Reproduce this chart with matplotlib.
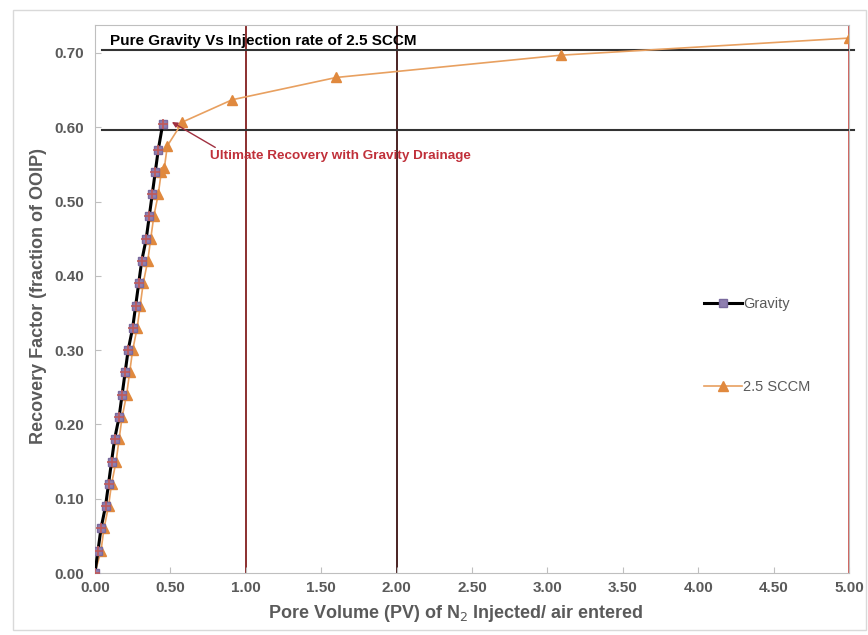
import matplotlib
matplotlib.use("Agg")
import matplotlib.pyplot as plt
from matplotlib.patches import Rectangle
from matplotlib.ticker import FormatStrFormatter, MultipleLocator

plt.rcParams["font.family"] = ["Liberation Sans", "DejaVu Sans"]

# gravity drainage run
gravity_pv = [0.00, 0.02, 0.04, 0.07, 0.09, 0.11, 0.13, 0.16, 0.18, 0.20, 0.22,
              0.25, 0.27, 0.29, 0.31, 0.34, 0.36, 0.38, 0.40, 0.42, 0.45]
gravity_rf = [0.00, 0.03, 0.06, 0.09, 0.12, 0.15, 0.18, 0.21, 0.24, 0.27, 0.30,
              0.33, 0.36, 0.39, 0.42, 0.45, 0.48, 0.51, 0.54, 0.57, 0.605]

# 2.5 SCCM injection run
sccm_pv = [0.00, 0.04, 0.06, 0.09, 0.11, 0.14, 0.16, 0.18, 0.21, 0.23, 0.25,
           0.28, 0.30, 0.32, 0.35, 0.37, 0.39, 0.42, 0.44, 0.46, 0.48,
           0.58, 0.91, 1.60, 3.09, 5.00]
sccm_rf = [0.00, 0.03, 0.06, 0.09, 0.12, 0.15, 0.18, 0.21, 0.24, 0.27, 0.30,
           0.33, 0.36, 0.39, 0.42, 0.45, 0.48, 0.51, 0.54, 0.545, 0.575,
           0.607, 0.637, 0.667, 0.697, 0.720]

ref_levels = [0.596, 0.704]
ref_pv = [1.0, 2.0, 5.0]
ref_pv_colors = ["#8b2f2f", "#4a2222", "#d0605a"]

GRAY = "#5a5a5a"

fig = plt.figure(figsize=(8.68, 6.35), dpi=100)
ax = fig.add_axes([0.1094, 0.0976, 0.8687, 0.863])

fig.patches.append(Rectangle((0.015, 0.008), 0.983, 0.977, transform=fig.transFigure,
                             fill=False, edgecolor="#d9d9d9", lw=1))

for xv, c in zip(ref_pv, ref_pv_colors):
    ax.axvline(xv, color=c, lw=1.4, zorder=1)
for yv in ref_levels:
    ax.plot([0.05, 5.03], [yv, yv], color="#333333", lw=1.5, clip_on=False, zorder=1)

ax.plot(gravity_pv, gravity_rf, color="black", lw=2.2, marker="s", ms=6,
        mfc="#8f7fb0", mec="#7a6a9e", label="Gravity", zorder=3)
ax.plot(gravity_pv, gravity_rf, ls="none", marker="+", ms=7, mew=1.2,
        color="#c05a5a", zorder=4)
ax.plot(sccm_pv, sccm_rf, color="#e8a060", lw=1.2, marker="^", ms=7,
        mfc="#e0893e", mec="#e0893e", label="2.5 SCCM", zorder=2)

ax.text(0.1, 0.711, "Pure Gravity Vs Injection rate of 2.5 SCCM",
        fontsize=11, fontweight="bold", color="black")
ax.annotate("Ultimate Recovery with Gravity Drainage", xy=(0.51, 0.607),
            xytext=(0.76, 0.557), fontsize=9.7, fontweight="bold", color="#c0303a",
            arrowprops=dict(arrowstyle="-|>", color="#a03040", lw=1,
                            shrinkA=0, shrinkB=0, mutation_scale=8,
                            relpos=(0.04, 1.0)))

ax.set_xlim(0, 5)
ax.set_ylim(0, 0.7376)
ax.xaxis.set_major_locator(MultipleLocator(0.5))
ax.yaxis.set_major_locator(MultipleLocator(0.1))
ax.xaxis.set_major_formatter(FormatStrFormatter("%.2f"))
ax.yaxis.set_major_formatter(FormatStrFormatter("%.2f"))
ax.tick_params(direction="in", length=4, color="#bfbfbf", labelcolor=GRAY,
               labelsize=11)
ax.tick_params(axis="y", pad=8)
ax.tick_params(axis="x", pad=6)
for lab in ax.get_xticklabels() + ax.get_yticklabels():
    lab.set_fontweight("bold")
for s in ax.spines.values():
    s.set_color("#bfbfbf")

ax.set_xlabel("Pore Volume (PV) of N$_2$ Injected/ air entered", fontsize=13,
              fontweight="bold", color=GRAY)
ax.xaxis.set_label_coords(0.479, -0.055)
ax.set_ylabel("Recovery Factor (fraction of OOIP)", fontsize=13,
              fontweight="bold", color=GRAY)
ax.yaxis.set_label_coords(-0.064, 0.505)

leg = ax.legend(loc="upper left", bbox_to_anchor=(0.79, 0.527), frameon=False,
                labelspacing=4.7, handlelength=2.6, handletextpad=0.1,
                prop={"size": 10.5})
for t in leg.get_texts():
    t.set_color(GRAY)

fig.savefig("out.png", dpi=100)
